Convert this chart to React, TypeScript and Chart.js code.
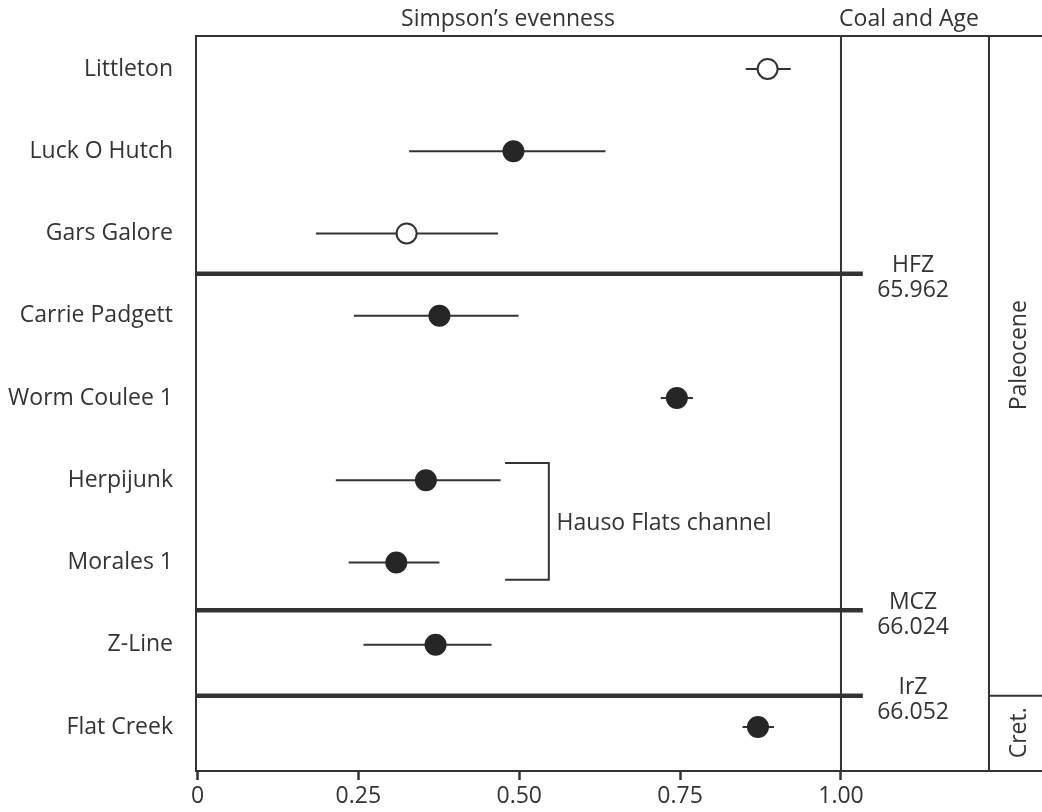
import React, { useEffect, useRef } from "react";
import { Chart, registerables } from "chart.js";

Chart.register(...registerables);

// ---- Data ----
const sites = [
  "Littleton",
  "Luck O Hutch",
  "Gars Galore",
  "Carrie Padgett",
  "Worm Coulee 1",
  "Herpijunk",
  "Morales 1",
  "Z-Line",
  "Flat Creek",
];
const rowPos = [9, 8, 7, 6, 5, 4, 3, 2, 1];
const evenness = [0.886, 0.491, 0.325, 0.376, 0.745, 0.355, 0.309, 0.37, 0.871];
const lowerCI = [0.852, 0.329, 0.184, 0.243, 0.72, 0.215, 0.235, 0.258, 0.847];
const upperCI = [0.922, 0.634, 0.467, 0.499, 0.77, 0.471, 0.376, 0.457, 0.896];
const openMarker = [true, false, true, false, false, false, false, false, false];

const xTickValues = [0, 0.25, 0.5, 0.75, 1];
const xTickLabels = ["0", "0.25", "0.50", "0.75", "1.00"];

const zoneNames = ["HFZ", "MCZ", "IrZ"];
const zoneAges = ["65.962", "66.024", "66.052"];
const zoneBoundaries = [6.51, 2.42, 1.38];

const periodNames = ["Paleocene", "Cret."];
const periodCenters = [5.52, 0.93];

const groupName = "Hauso Flats channel";
const groupRows = [4, 3];

const xTitle = "Simpson\u2019s evenness";
const coalTitle = "Coal and Age";

// axis / column extents (data units)
const X_MIN = -0.0023;
const X_MAX = 1.3124;
const Y_MIN = 0.465;
const Y_MAX = 9.401;
const COAL_LEFT = 1.0;
const AGE_RIGHT = 1.23;
const ZONE_LINE_END = 1.034;
const ZONE_LABEL_X = 1.112;
const PERIOD_LABEL_X = 1.278;
const BRACKET_LEFT = 0.478;
const BRACKET_RIGHT = 0.546;
const BRACKET_PAD = 0.21;
const GROUP_LABEL_X = 0.558;

const W = 1042;
const H = 812;
const INK = "#333333";
const FONT = '"Open Sans", "Noto Sans", sans-serif';

const annotations = {
  id: "annotations",
  beforeDatasetsDraw(chart: any) {
    const { ctx } = chart;
    const xs = chart.scales.x;
    const ys = chart.scales.y;
    ctx.save();
    ctx.strokeStyle = INK;
    ctx.lineWidth = 2;
    for (let i = 0; i < sites.length; i++) {
      const y = ys.getPixelForValue(rowPos[i]);
      ctx.beginPath();
      ctx.moveTo(xs.getPixelForValue(lowerCI[i]), y);
      ctx.lineTo(xs.getPixelForValue(upperCI[i]), y);
      ctx.stroke();
    }
    ctx.restore();
  },
  afterDraw(chart: any) {
    const { ctx, chartArea } = chart;
    const xs = chart.scales.x;
    const ys = chart.scales.y;
    const px = (v: number) => xs.getPixelForValue(v);
    const py = (v: number) => ys.getPixelForValue(v);
    ctx.save();
    ctx.strokeStyle = INK;
    ctx.fillStyle = INK;

    // top frame line
    ctx.lineWidth = 2;
    ctx.beginPath();
    ctx.moveTo(chartArea.left - 1, chartArea.top);
    ctx.lineTo(chartArea.right, chartArea.top);
    ctx.stroke();

    // coal column & age column lines
    ctx.beginPath();
    ctx.moveTo(px(COAL_LEFT), chartArea.top);
    ctx.lineTo(px(COAL_LEFT), chartArea.bottom);
    ctx.moveTo(px(AGE_RIGHT), chartArea.top);
    ctx.lineTo(px(AGE_RIGHT), chartArea.bottom);
    // Cret. divider at IrZ boundary
    ctx.moveTo(px(AGE_RIGHT), py(zoneBoundaries[2]));
    ctx.lineTo(chartArea.right, py(zoneBoundaries[2]));
    ctx.stroke();

    // zone boundary thick lines
    ctx.lineWidth = 4.5;
    for (let i = 0; i < zoneBoundaries.length; i++) {
      const y = py(zoneBoundaries[i]);
      ctx.beginPath();
      ctx.moveTo(chartArea.left, y);
      ctx.lineTo(px(ZONE_LINE_END), y);
      ctx.stroke();
    }

    // zone labels
    ctx.font = `23px ${FONT}`;
    ctx.textAlign = "center";
    ctx.textBaseline = "middle";
    for (let i = 0; i < zoneBoundaries.length; i++) {
      const y = py(zoneBoundaries[i]);
      ctx.fillText(zoneNames[i], px(ZONE_LABEL_X), y - 8);
      ctx.fillText(zoneAges[i], px(ZONE_LABEL_X), y + 17);
    }

    // bracket
    ctx.lineWidth = 2;
    const bTop = py(groupRows[0] + BRACKET_PAD);
    const bBot = py(groupRows[1] - BRACKET_PAD);
    ctx.beginPath();
    ctx.moveTo(px(BRACKET_LEFT), bTop);
    ctx.lineTo(px(BRACKET_RIGHT), bTop);
    ctx.lineTo(px(BRACKET_RIGHT), bBot);
    ctx.lineTo(px(BRACKET_LEFT), bBot);
    ctx.stroke();
    ctx.textAlign = "left";
    ctx.fillText(groupName, px(GROUP_LABEL_X), (bTop + bBot) / 2 + 2);

    // headers
    ctx.textAlign = "center";
    ctx.fillText(xTitle, 508, 19);
    ctx.fillText(coalTitle, 909, 19);

    // period labels (rotated)
    for (let i = 0; i < periodNames.length; i++) {
      ctx.save();
      ctx.translate(px(PERIOD_LABEL_X), py(periodCenters[i]));
      ctx.rotate(-Math.PI / 2);
      ctx.textAlign = "center";
      ctx.textBaseline = "middle";
      ctx.fillText(periodNames[i], 0, 0);
      ctx.restore();
    }
    ctx.restore();
  },
};

export default function App() {
  const canvasRef = useRef<HTMLCanvasElement | null>(null);

  useEffect(() => {
    if (!canvasRef.current) return;
    document.documentElement.style.overflow = "hidden";
    const points = sites.map((_, i) => ({ x: evenness[i], y: rowPos[i] }));
    const chart = new Chart(canvasRef.current, {
      type: "scatter",
      data: {
        datasets: [
          {
            data: points,
            pointRadius: 10,
            pointHoverRadius: 10,
            pointBorderWidth: 2,
            pointBackgroundColor: openMarker.map((o) => (o ? "#ffffff" : "#262626")),
            pointBorderColor: openMarker.map((o) => (o ? INK : "#262626")),
          },
        ],
      },
      options: {
        animation: false,
        responsive: false,
        maintainAspectRatio: false,
        devicePixelRatio: 1,
        layout: { autoPadding: false, padding: { top: 36, left: 0, right: 0, bottom: 0 } },
        plugins: { legend: { display: false }, tooltip: { enabled: false } },
        scales: {
          x: {
            type: "linear",
            min: X_MIN,
            max: X_MAX,
            afterBuildTicks: (s: any) => {
              s.ticks = xTickValues.map((v) => ({ value: v }));
            },
            afterFit: (s: any) => {
              s.height = 41;
            },
            ticks: {
              autoSkip: false,
              maxRotation: 0,
              padding: 3,
              color: INK,
              font: { family: FONT, size: 23 },
              callback: (v: any) => {
                const i = xTickValues.indexOf(Number(v));
                return i >= 0 ? xTickLabels[i] : "";
              },
            },
            grid: {
              display: true,
              drawOnChartArea: false,
              drawTicks: true,
              tickLength: 9,
              tickWidth: 2.5,
              tickColor: INK,
            },
            border: { display: true, color: INK, width: 2 },
          },
          y: {
            type: "linear",
            min: Y_MIN,
            max: Y_MAX,
            afterBuildTicks: (s: any) => {
              s.ticks = rowPos.map((v) => ({ value: v }));
            },
            afterFit: (s: any) => {
              s.width = 196;
            },
            ticks: {
              autoSkip: false,
              padding: 15,
              color: INK,
              font: { family: FONT, size: 23 },
              callback: (v: any) => {
                const i = rowPos.indexOf(Number(v));
                return i >= 0 ? sites[i] : "";
              },
            },
            grid: { display: false },
            border: { display: true, color: INK, width: 2 },
          },
        },
      },
      plugins: [annotations],
    });
    return () => chart.destroy();
  }, []);

  return (
    <div
      style={{
        position: "absolute",
        left: 0,
        top: 0,
        width: W,
        height: H,
        overflow: "hidden",
        background: "#ffffff",
      }}
    >
      <canvas ref={canvasRef} width={W} height={H} style={{ display: "block", width: W, height: H }} />
    </div>
  );
}
